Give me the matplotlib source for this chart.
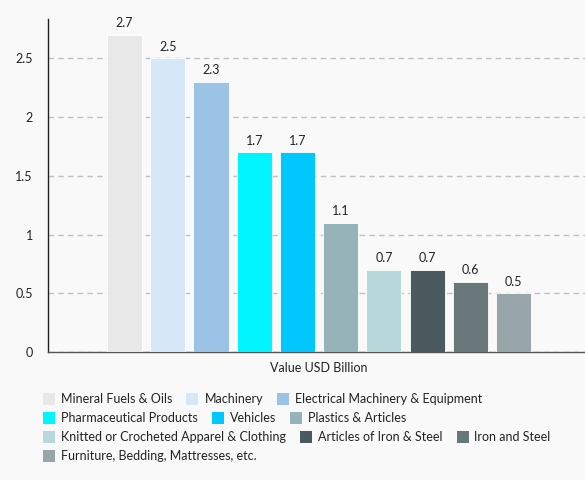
import numpy as np
import matplotlib

matplotlib.use('Agg')
import matplotlib.pyplot as plt
from matplotlib.patches import Rectangle

categories = [
    "Mineral Fuels & Oils",
    "Machinery",
    "Electrical Machinery & Equipment",
    "Pharmaceutical Products",
    "Vehicles",
    "Plastics & Articles",
    "Knitted or Crocheted Apparel & Clothing",
    "Articles of Iron & Steel",
    "Iron and Steel",
    "Furniture, Bedding, Mattresses, etc.",
]
values = [2.7, 2.5, 2.3, 1.7, 1.7, 1.1, 0.7, 0.7, 0.6, 0.5]
colors = ["#e8e8e8", "#d6e7f7", "#9cc3e6", "#00f5ff", "#00c8ff",
          "#95b3b8", "#b9d8dc", "#4a5a5e", "#68777a", "#98a5a9"]
group_label = "Value USD Billion"
yticks = [0, 0.5, 1, 1.5, 2, 2.5]

plt.rcParams['font.family'] = ['Lato', 'DejaVu Sans']
bg = "#f9f9f9"
fs = 9

fig = plt.figure(figsize=(5.85, 4.8), dpi=100, facecolor=bg)
ax = fig.add_axes([48 / 585, 1 - 352 / 480, 1 - 48 / 585, (352 - 19) / 480])
ax.set_facecolor(bg)

x = np.arange(len(values))
bars = ax.bar(x, values, width=0.81, color=colors, edgecolor="white", linewidth=0.6, zorder=3)
for b, v in zip(bars, values):
    ax.annotate(f"{v:g}", (b.get_x() + b.get_width() / 2, v), xytext=(0, 4),
                textcoords="offset points", ha="center", va="bottom",
                fontsize=fs, color="#222222")

ax.set_xlim(-1.77, 10.65)
ax.set_ylim(0, 2.835)
ax.set_yticks(yticks)
ax.set_yticklabels([f"{t:g}" for t in yticks])
ax.set_xticks([(len(values) - 1) / 2])
ax.set_xticklabels([group_label])
ax.tick_params(axis='both', length=0, labelsize=fs, colors="#222222")
ax.tick_params(axis='y', pad=11)
ax.tick_params(axis='x', pad=7)
ax.yaxis.grid(True, color="#c0c0c0", linestyle=(0, (4, 3)), linewidth=1, zorder=0)
ax.set_axisbelow(True)
for s in ["top", "right"]:
    ax.spines[s].set_visible(False)
ax.spines["left"].set_color("#222222")
ax.spines["bottom"].set_color("#555555")
ax.spines["left"].set_linewidth(1)
ax.spines["bottom"].set_linewidth(1)

# wrapped legend, laid out left to right
fig.canvas.draw()
renderer = fig.canvas.get_renderer()
W, H = 585, 480
px, py = 43, 399
row_h = 19
for name, c in zip(categories, colors):
    t = fig.text(0, 0, name, fontsize=fs, color="#222222", va="center", ha="left")
    tw = t.get_window_extent(renderer).width
    item_w = 12 + 6 + tw
    if px + item_w > W - 20 and px > 43:
        px = 43
        py += row_h
    fig.patches.append(Rectangle((px / W, 1 - (py + 6) / H), 12 / W, 12 / H,
                                 transform=fig.transFigure, facecolor=c, edgecolor="none"))
    t.set_position(((px + 18) / W, 1 - py / H))
    px += item_w + 14

fig.savefig("out.png", dpi=100, facecolor=bg)
